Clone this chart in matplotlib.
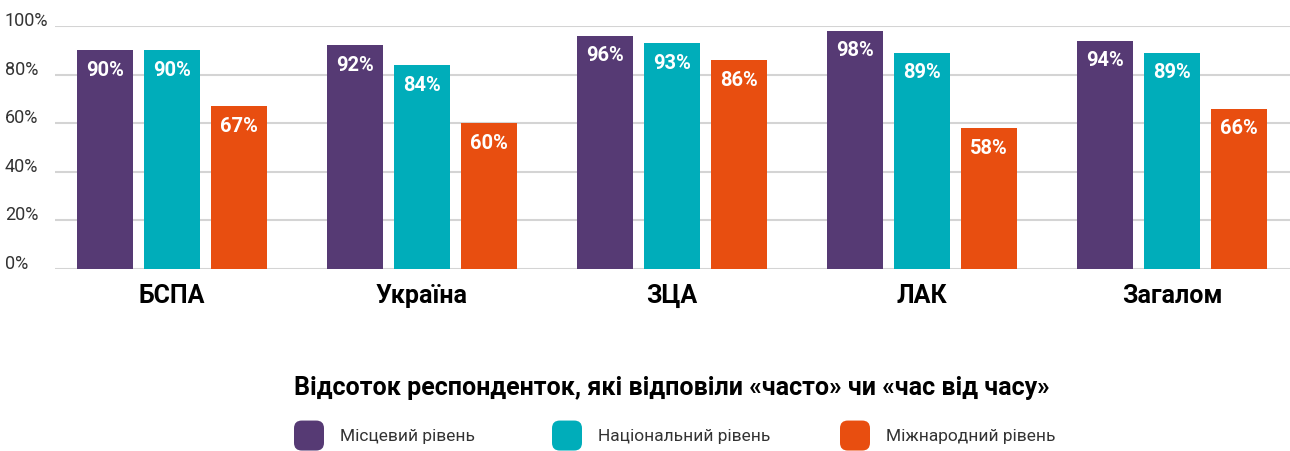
import matplotlib
matplotlib.use("Agg")
import matplotlib.pyplot as plt
from matplotlib.patches import FancyBboxPatch
import numpy as np

categories = ["БСПА", "Україна", "ЗЦА", "ЛАК", "Загалом"]
series_names = ["Місцевий рівень", "Національний рівень", "Міжнародний рівень"]
local_vals = [90, 92, 96, 98, 94]
national_vals = [90, 84, 93, 89, 89]
intl_vals = [67, 60, 86, 58, 66]
yticks = [0, 20, 40, 60, 80, 100]
title = "Відсоток респондентoк, які відповіли «часто» чи «час від часу»".replace("o", "о")
colors = ["#563a74", "#00adba", "#e84e10"]

plt.rcParams['font.family'] = ['Roboto', 'DejaVu Sans']

fig = plt.figure(figsize=(12.9, 4.51), dpi=100)
ax = fig.add_axes([55/1290, 1-269/451, 1-55/1290, 243/451])

x = np.arange(len(categories))
w = 0.224
off = 0.268
for i, (vals, c) in enumerate(zip([local_vals, national_vals, intl_vals], colors)):
    bars = ax.bar(x + (i-1)*off, vals, width=w, color=c, zorder=3)
    for b, v in zip(bars, vals):
        ax.annotate(f"{v}%", (b.get_x()+b.get_width()/2, v), xytext=(0, -14.5),
                    textcoords="offset points", ha="center", va="center",
                    color="white", fontsize=14.5, fontweight="bold", zorder=4)

ax.set_xlim(-0.468, 4.472)
ax.set_ylim(0, 100)
ax.set_yticks(yticks)
ax.set_yticklabels([f"{t}%" for t in yticks])
ax.yaxis.grid(True, color="#d4d4d4", linewidth=1.5, zorder=0)
ax.tick_params(axis="y", length=0, pad=36, labelsize=13, labelcolor="#333333")
for lab in ax.get_yticklabels():
    lab.set_ha("left")
    lab.set_va("baseline")
ax.set_xticks(x)
ax.set_xticklabels(categories, fontsize=18, fontweight="bold", color="black")
ax.tick_params(axis="x", length=0, pad=11)
for s in ax.spines.values():
    s.set_visible(False)

fig.text(672/1290, 1-388/451, title, ha="center", va="center", fontsize=18,
         fontweight="bold", color="black")

leg_x = [294, 552, 840]
for lx, name, c in zip(leg_x, series_names, colors):
    p = FancyBboxPatch((lx/1290, 1-451/451+0.001), 30/1290, 30/451,
                       boxstyle="round,pad=0,rounding_size=0.006",
                       transform=fig.transFigure, facecolor=c, edgecolor="none",
                       mutation_aspect=1290/451)
    fig.patches.append(p)
    fig.text((lx+46)/1290, 1-437/451, name, ha="left", va="center", fontsize=12.5,
             color="#333333")

fig.savefig("out.png", dpi=100)
